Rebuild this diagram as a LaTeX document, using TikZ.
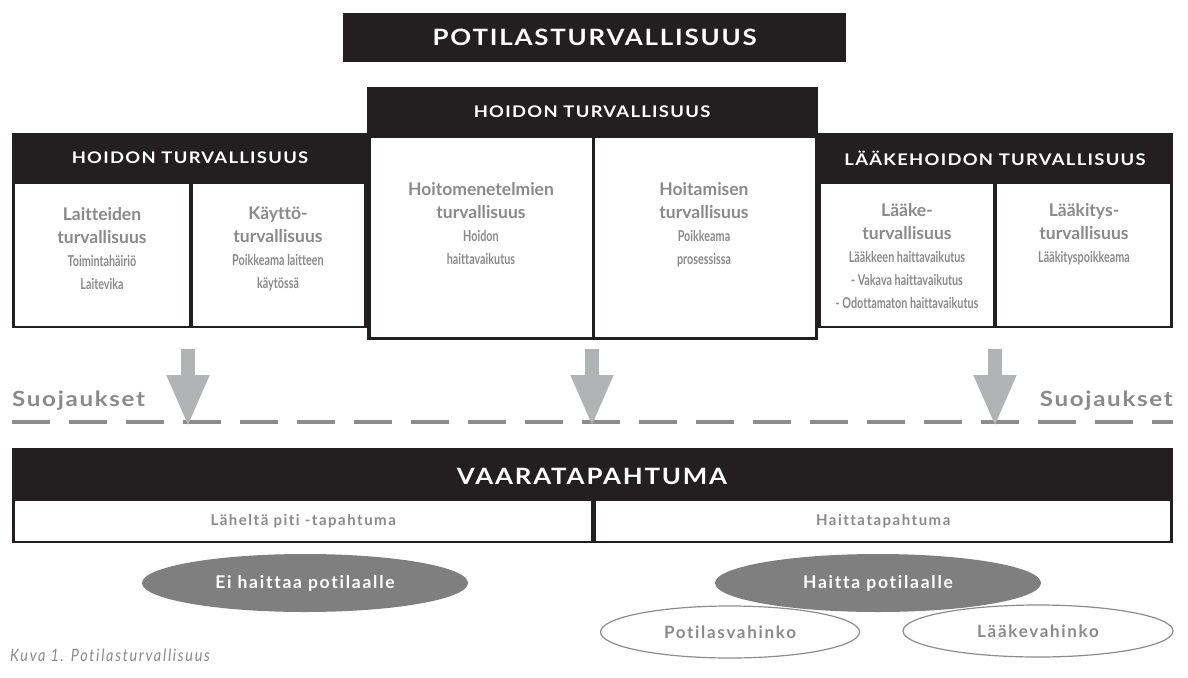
\documentclass[tikz,border=0pt]{standalone}
\usepackage{fontspec}
\setmainfont{Lato}[Ligatures=NoCommon]
\newfontfamily\condfont{Lato}[FakeStretch=0.72, Ligatures=NoCommon]
\newfontfamily\capfont{Lato}[FakeStretch=1.15, LetterSpace=8, Ligatures=NoCommon]
\newfontfamily\trackfont{Lato}[LetterSpace=10, Ligatures=NoCommon]
\newfontfamily\capfnt{Lato}[FakeStretch=0.85, LetterSpace=10, Ligatures=NoCommon]
\usetikzlibrary{arrows.meta,shapes.geometric}
\definecolor{blk}{HTML}{231F20}
\definecolor{txtgray}{HTML}{8A8A8C}
\definecolor{arrgray}{HTML}{B2B3B5}
\definecolor{dashgray}{HTML}{8C8C8C}
\definecolor{ellgray}{HTML}{7F7F80}
\newcommand{\hf}{\rmfamily\bfseries\fontsize{17.5}{23}\selectfont}
\newcommand{\detfont}{\condfont\bfseries\fontsize{15}{23}\selectfont}
\begin{document}
\begin{tikzpicture}[x=1pt,y=-1pt,
        blackbox/.style={fill=blk, anchor=north west, inner sep=0pt},
        whitebox/.style={fill=white, anchor=north west, inner sep=0pt},
        cell/.style={anchor=north, align=center, text=txtgray, inner sep=0pt, font=\detfont},
        rowtext/.style={text=txtgray, font=\trackfont\bfseries\fontsize{15}{18}\selectfont},
        headtext/.style={text=white, font=\capfont\bfseries\fontsize{16}{20}\selectfont},
        bigtitle/.style={text=white, font=\capfont\bfseries\fontsize{22.5}{28}\selectfont},
        shieldtext/.style={text=txtgray, font=\capfont\bfseries\fontsize{21}{24}\selectfont},
        guard/.style={line width=14pt, arrgray, -{Triangle[width=39pt,length=52pt]}},
        darkell/.style={ellipse, fill=ellgray, inner sep=0pt, minimum width=326pt, minimum height=58pt,
            text=white, font=\trackfont\bfseries\fontsize{17.5}{22}\selectfont},
        lightell/.style={ellipse, draw=dashgray, line width=1.2pt, fill=white, inner sep=0pt,
            text=txtgray, font=\trackfont\bfseries\fontsize{17}{22}\selectfont}]
    \useasboundingbox (0,0) rectangle (1188,677);

    \node[blackbox, minimum width=503pt, minimum height=49pt] (top) at (343,13) {};
    \node[bigtitle] at (top.center) {POTILASTURVALLISUUS};

    \node[blackbox, minimum width=355pt, minimum height=195pt] (left) at (12,133) {};
    \node[whitebox, minimum width=174pt, minimum height=142pt] (laite) at (15,184) {};
    \node[whitebox, minimum width=171pt, minimum height=142pt] (kaytto) at (193,184) {};
    \node[headtext] at (190,158) {HOIDON TURVALLISUUS};

    \node[blackbox, minimum width=355pt, minimum height=195pt] (right) at (818,133) {};
    \node[whitebox, minimum width=172pt, minimum height=142pt] (laake) at (821,184) {};
    \node[whitebox, minimum width=173pt, minimum height=142pt] (laakitys) at (997,184) {};
    \node[headtext] at (995,158) {LÄÄKEHOIDON TURVALLISUUS};

    \node[blackbox, minimum width=451pt, minimum height=253pt] (mid) at (367,87) {};
    \node[whitebox, minimum width=221pt, minimum height=199pt] (menetelma) at (371,138) {};
    \node[whitebox, minimum width=220pt, minimum height=199pt] (hoitaminen) at (595,138) {};
    \node[headtext] at (592,112) {HOIDON TURVALLISUUS};

    \node[cell] at (102,207) {\hf Laitteiden\\\hf turvallisuus\\Toimintahäiriö\\Laitevika};
    \node[cell] at (278,207) {\hf Käyttö-\\\hf turvallisuus\\Poikkeama laitteen\\käytössä};
    \node[cell] at (481,182) {\hf Hoitomenetelmien\\\hf turvallisuus\\Hoidon\\haittavaikutus};
    \node[cell] at (704,182) {\hf Hoitamisen\\\hf turvallisuus\\Poikkeama\\prosessissa};
    \node[cell] at (907,203) {\hf Lääke-\\\hf turvallisuus\\Lääkkeen haittavaikutus\\- Vakava haittavaikutus\\- Odottamaton haittavaikutus};
    \node[cell] at (1084,203) {\hf Lääkitys-\\\hf turvallisuus\\Lääkityspoikkeama};

    \coordinate (s1) at (188,349);
    \coordinate (e1) at (188,427);
    \coordinate (s2) at (592,349);
    \coordinate (e2) at (592,427);
    \coordinate (s3) at (995,349);
    \coordinate (e3) at (995,427);
    \coordinate (dl) at (12,422);
    \coordinate (dr) at (1173,422);

    \draw[dashgray, line width=4.5pt, dash pattern=on 38pt off 19pt] (dl) -- (dr);
    \draw[guard] (s1) -- (e1);
    \draw[guard] (s2) -- (e2);
    \draw[guard] (s3) -- (e3);

    \node[shieldtext, anchor=west, inner sep=0pt] (suoL) at (12,401) {Suojaukset};
    \node[shieldtext, anchor=east, inner sep=0pt] (suoR) at (1173,401) {Suojaukset};

    \node[blackbox, minimum width=1161pt, minimum height=95pt] (vaara) at (12,448) {};
    \node[whitebox, minimum width=576pt, minimum height=40pt] (lahelta) at (15,501) {};
    \node[whitebox, minimum width=574pt, minimum height=40pt] (haitta) at (596,501) {};
    \node[bigtitle] at (592,476) {VAARATAPAHTUMA};
    \node[rowtext] at (lahelta.center) {Läheltä piti -tapahtuma};
    \node[rowtext] at (haitta.center) {Haittatapahtuma};

    \node[lightell, minimum width=259pt, minimum height=52pt] (potvah) at (730,632) {Potilasvahinko};
    \node[lightell, minimum width=270pt, minimum height=52pt] (laakvah) at (1038,631) {Lääkevahinko};
    \node[darkell] (eihaitta) at (305,583) {Ei haittaa potilaalle};
    \node[darkell] (haittapot) at (878,583) {Haitta potilaalle};

    \node[anchor=west, inner sep=0pt, text=txtgray, font=\capfnt\itshape\fontsize{17}{20}\selectfont] (kuva) at (10,655) {Kuva 1. Potilasturvallisuus};
\end{tikzpicture}
\end{document}
